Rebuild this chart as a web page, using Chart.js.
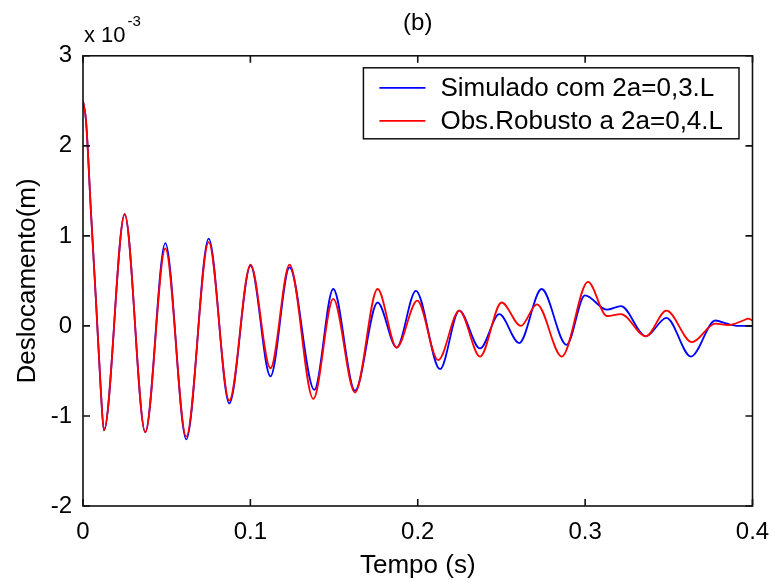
<!DOCTYPE html>
<html lang="pt">
<head>
<meta charset="UTF-8">
<title>Deslocamento x Tempo (b)</title>
<script src="https://cdn.jsdelivr.net/npm/chart.js@4"></script>
<style>
  body { margin: 0; background: #fff; }
  #grafico { display: block; }
</style>
</head>
<body>
<canvas id="grafico" width="771" height="582"></canvas>
<script>
// Valores (deslocamento em unidades de 10^-3 m)
const tempoSimulado = [0, 0.0018, 0.0048, 0.0079, 0.0106, 0.0125, 0.0249, 0.0372, 0.0492, 0.0617,
  0.0751, 0.0874, 0.1001, 0.1120, 0.1234, 0.1382, 0.1495, 0.1625, 0.1760, 0.1874,
  0.1989, 0.2133, 0.2248, 0.2372, 0.2487, 0.2606, 0.2740, 0.2889, 0.2999, 0.3130,
  0.3214, 0.3363, 0.3486, 0.3632, 0.3778, 0.3847, 0.3907, 0.3973, 0.4];
const simulado = [2.5, 2.28, 1.25, 0.23, -0.7, -1.16, 1.24, -1.18, 0.92, -1.26,
  0.97, -0.86, 0.67, -0.56, 0.65, -0.71, 0.41, -0.72, 0.26, -0.24,
  0.39, -0.48, 0.17, -0.25, 0.13, -0.19, 0.41, -0.21, 0.34, 0.18,
  0.22, -0.115, 0.09, -0.34, 0.06, 0.025, 0.0, 0.0, 0.0];

const tempoObservador = [0, 0.0018, 0.0048, 0.0079, 0.0106, 0.0125, 0.0249, 0.0372, 0.0492, 0.0617,
  0.0751, 0.0874, 0.1001, 0.1120, 0.1234, 0.1376, 0.1495, 0.1625, 0.1760, 0.1874,
  0.1997, 0.2122, 0.2248, 0.2372, 0.2501, 0.2616, 0.2712, 0.2861, 0.3017, 0.3130,
  0.3214, 0.3363, 0.3486, 0.3638, 0.3778, 0.3857, 0.3944, 0.3974, 0.4];
const observador = [2.5, 2.28, 1.25, 0.23, -0.7, -1.16, 1.24, -1.18, 0.86, -1.23,
  0.93, -0.83, 0.68, -0.47, 0.68, -0.81, 0.30, -0.74, 0.41, -0.24,
  0.28, -0.38, 0.17, -0.34, 0.26, 0.0, 0.24, -0.34, 0.49, 0.11,
  0.13, -0.115, 0.17, -0.18, 0.025, 0.01, 0.06, 0.08, 0.06];

const ticksTempo = [0, 0.1, 0.2, 0.3, 0.4];
const ticksDesloc = [-2, -1, 0, 1, 2, 3];
const rotulos = ['Simulado com 2a=0,3.L', 'Obs.Robusto a 2a=0,4.L'];

const fonte = "'Liberation Sans', Arial, Helvetica, sans-serif";
Chart.defaults.font.family = fonte;
Chart.defaults.color = '#000';

// moldura com ticks para dentro, legenda e multiplicador (estilo MATLAB)
const molduraMatlab = {
  id: 'molduraMatlab',
  afterDatasetsDraw(chart) {
    const { ctx, chartArea: a, scales: { x, y } } = chart;
    ctx.save();
    ctx.strokeStyle = '#111';
    ctx.lineWidth = 1.6;
    ctx.strokeRect(a.left, a.top, a.right - a.left, a.bottom - a.top);
    ctx.beginPath();
    x.ticks.forEach(t => {
      const px = x.getPixelForValue(t.value);
      ctx.moveTo(px, a.bottom); ctx.lineTo(px, a.bottom - 7);
      ctx.moveTo(px, a.top); ctx.lineTo(px, a.top + 7);
    });
    y.ticks.forEach(t => {
      const py = y.getPixelForValue(t.value);
      ctx.moveTo(a.left, py); ctx.lineTo(a.left + 7, py);
      ctx.moveTo(a.right, py); ctx.lineTo(a.right - 7, py);
    });
    ctx.stroke();

    // legenda
    ctx.font = '26px ' + fonte;
    const larguraTexto = Math.max(...chart.data.datasets.map(d => ctx.measureText(d.label).width));
    const w = 77 + larguraTexto + 16, h = 71;
    const lx = a.right - 13.5 - w, ly = a.top + 12;
    ctx.fillStyle = '#fff';
    ctx.fillRect(lx, ly, w, h);
    ctx.strokeStyle = '#111';
    ctx.lineWidth = 1.5;
    ctx.strokeRect(lx, ly, w, h);
    ctx.textBaseline = 'middle';
    chart.data.datasets.forEach((d, i) => {
      const cy = ly + 20 + i * 33;
      ctx.strokeStyle = d.borderColor;
      ctx.lineWidth = 1.8;
      ctx.beginPath(); ctx.moveTo(lx + 16, cy); ctx.lineTo(lx + 62, cy); ctx.stroke();
      ctx.fillStyle = '#000';
      ctx.fillText(d.label, lx + 77, cy + 1);
    });

    // x 10^-3
    ctx.textBaseline = 'alphabetic';
    ctx.font = '22px ' + fonte;
    ctx.fillText('x 10', a.left + 1, 42);
    const wx = ctx.measureText('x 10').width;
    ctx.font = '15px ' + fonte;
    ctx.fillText('-3', a.left + 3 + wx, 26);
    ctx.restore();
  }
};

new Chart(document.getElementById('grafico'), {
  type: 'line',
  data: {
    datasets: [
      {
        label: rotulos[0],
        data: tempoSimulado.map((t, i) => ({ x: t, y: simulado[i] })),
        borderColor: '#0000ff',
        borderWidth: 1.8,
        pointRadius: 0,
        cubicInterpolationMode: 'monotone',
        order: 1
      },
      {
        label: rotulos[1],
        data: tempoObservador.map((t, i) => ({ x: t, y: observador[i] })),
        borderColor: '#ff0000',
        borderWidth: 1.8,
        pointRadius: 0,
        cubicInterpolationMode: 'monotone',
        order: 0
      }
    ]
  },
  options: {
    responsive: false,
    animation: false,
    devicePixelRatio: 1,
    layout: { padding: { left: 0, right: 18.5, top: 0, bottom: 0 } },
    plugins: {
      legend: { display: false },
      tooltip: { enabled: false },
      title: {
        display: true,
        text: '(b)',
        fullSize: false,
        font: { size: 24, weight: 'normal' },
        color: '#000',
        padding: { top: 9, bottom: 18 }
      }
    },
    scales: {
      x: {
        type: 'linear',
        min: 0,
        max: 0.4,
        afterBuildTicks: s => { s.ticks = ticksTempo.map(v => ({ value: v })); },
        afterFit: s => { s.height = 76; s.paddingLeft = 0; s.paddingRight = 0; },
        grid: { display: false, drawTicks: false },
        border: { display: false },
        ticks: {
          font: { size: 24 },
          padding: 12,
          maxRotation: 0,
          callback: v => (v === 0 ? '0' : v.toFixed(1))
        },
        title: {
          display: true,
          text: 'Tempo (s)',
          font: { size: 26 },
          padding: { top: 0, bottom: 1 }
        }
      },
      y: {
        type: 'linear',
        min: -2,
        max: 3,
        afterBuildTicks: s => { s.ticks = ticksDesloc.map(v => ({ value: v })); },
        afterFit: s => { s.width = 83; s.paddingTop = 0; s.paddingBottom = 0; },
        grid: { display: false, drawTicks: false },
        border: { display: false },
        ticks: {
          font: { size: 24 },
          padding: 11,
          callback: v => String(v)
        },
        title: {
          display: true,
          text: 'Deslocamento(m)',
          font: { size: 26 },
          padding: { top: 12, bottom: 0 }
        }
      }
    }
  },
  plugins: [molduraMatlab]
});
</script>
</body>
</html>
